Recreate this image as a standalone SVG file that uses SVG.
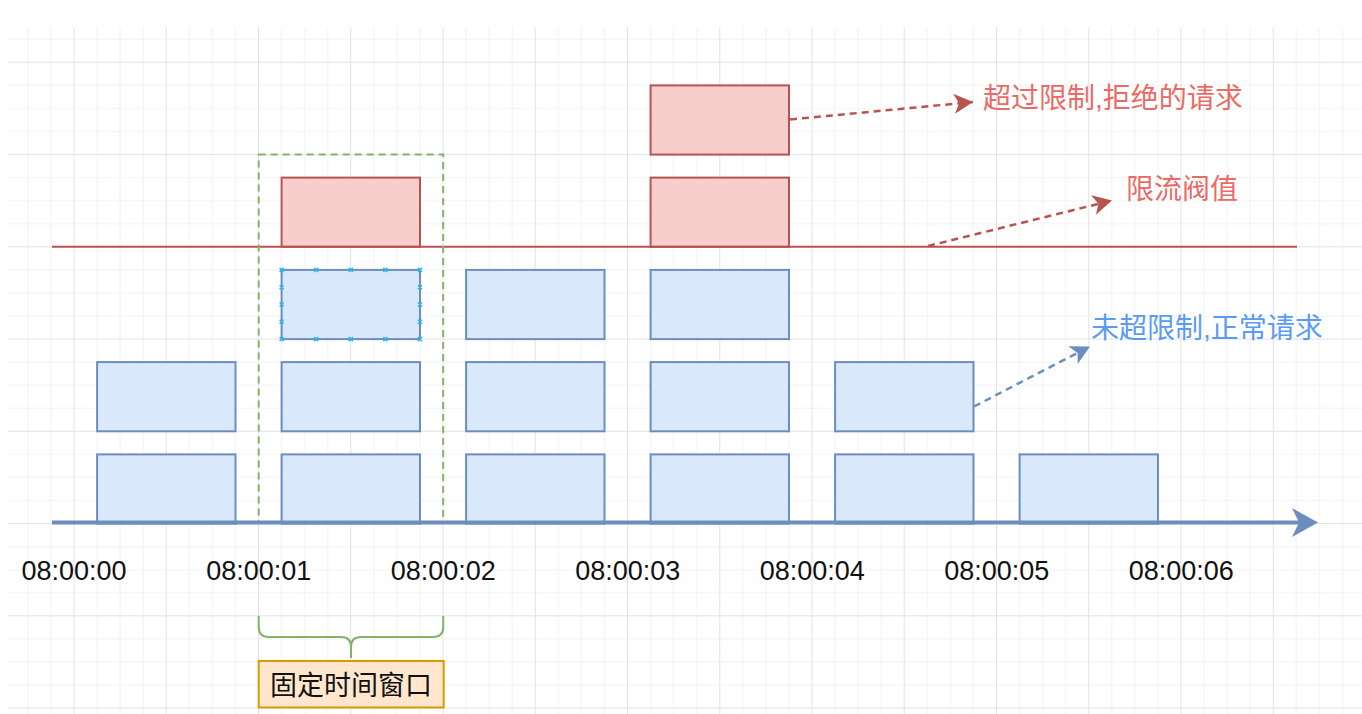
<svg xmlns="http://www.w3.org/2000/svg" width="1362" height="714" viewBox="0 0 1362 714">
<style>
.blue{fill:#dae8fc;stroke:#6c8ebf;stroke-width:2}
.red{fill:#f8cecc;stroke:#b85450;stroke-width:2}
.time{font-family:"Liberation Sans",Arial,sans-serif;font-size:27px;fill:#111;text-anchor:middle}
.cjk{font-family:"Liberation Sans","Noto Sans CJK SC",sans-serif;font-size:27px}
.call{font-size:28px}
.handle{stroke:#29b6f2;stroke-width:1.5;fill:none}
</style>
<defs>
<pattern id="grid" patternUnits="userSpaceOnUse" x="73.5" y="61.8" width="92.25" height="92.25">
<rect x="0" y="0" width="92.25" height="92.25" fill="#fff"/>
<rect x="23.06" y="0" width="1" height="92.25" fill="#f2f2f2"/>
<rect x="46.13" y="0" width="1" height="92.25" fill="#f2f2f2"/>
<rect x="69.19" y="0" width="1" height="92.25" fill="#f2f2f2"/>
<rect x="0" y="23.06" width="92.25" height="1" fill="#f2f2f2"/>
<rect x="0" y="46.13" width="92.25" height="1" fill="#f2f2f2"/>
<rect x="0" y="69.19" width="92.25" height="1" fill="#f2f2f2"/>
<rect x="0" y="0" width="1" height="92.25" fill="#e3e3e3"/>
<rect x="0" y="0" width="92.25" height="1" fill="#e3e3e3"/>
</pattern>
<marker id="arrRed" markerUnits="userSpaceOnUse" markerWidth="22" markerHeight="22" refX="19" refY="10" orient="auto">
<path d="M0,0 L19,10 L0,20 L5,10 Z" fill="#b85450"/>
</marker>
<marker id="arrBlue" markerUnits="userSpaceOnUse" markerWidth="22" markerHeight="22" refX="19" refY="10" orient="auto">
<path d="M0,0 L19,10 L0,20 L5,10 Z" fill="#6c8ebf"/>
</marker>
</defs>
<rect x="0" y="0" width="1362" height="714" fill="#fff"/>
<rect x="8" y="27" width="1354" height="687" fill="url(#grid)"/>

<g id="col0">
<rect id="c0r1" class="blue" x="97.1" y="454.4" width="138.4" height="69.2"/>
<rect id="c0r2" class="blue" x="97.1" y="362.1" width="138.4" height="69.2"/>
</g>
<g id="col1">
<rect id="c1r1" class="blue" x="281.6" y="454.4" width="138.4" height="69.2"/>
<rect id="c1r2" class="blue" x="281.6" y="362.1" width="138.4" height="69.2"/>
<rect id="c1r3" class="blue" x="281.6" y="269.9" width="138.4" height="69.2"/>
<rect id="c1r4" class="red" x="281.6" y="177.6" width="138.4" height="69.2"/>
</g>
<g id="col2">
<rect id="c2r1" class="blue" x="466.1" y="454.4" width="138.4" height="69.2"/>
<rect id="c2r2" class="blue" x="466.1" y="362.1" width="138.4" height="69.2"/>
<rect id="c2r3" class="blue" x="466.1" y="269.9" width="138.4" height="69.2"/>
</g>
<g id="col3">
<rect id="c3r1" class="blue" x="650.6" y="454.4" width="138.4" height="69.2"/>
<rect id="c3r2" class="blue" x="650.6" y="362.1" width="138.4" height="69.2"/>
<rect id="c3r3" class="blue" x="650.6" y="269.9" width="138.4" height="69.2"/>
<rect id="c3r4" class="red" x="650.6" y="177.6" width="138.4" height="69.2"/>
<rect id="c3r5" class="red" x="650.6" y="85.4" width="138.4" height="69.2"/>
</g>
<g id="col4">
<rect id="c4r1" class="blue" x="835.1" y="454.4" width="138.4" height="69.2"/>
<rect id="c4r2" class="blue" x="835.1" y="362.1" width="138.4" height="69.2"/>
</g>
<g id="col5">
<rect id="c5r1" class="blue" x="1019.6" y="454.4" width="138.4" height="69.2"/>
</g>

<g id="selection">
<path class="handle" d="M279.6,267.9l4,4m0,-4l-4,4 M314.2,267.9l4,4m0,-4l-4,4 M348.8,267.9l4,4m0,-4l-4,4 M383.4,267.9l4,4m0,-4l-4,4 M418,267.9l4,4m0,-4l-4,4
M279.6,337.1l4,4m0,-4l-4,4 M314.2,337.1l4,4m0,-4l-4,4 M348.8,337.1l4,4m0,-4l-4,4 M383.4,337.1l4,4m0,-4l-4,4 M418,337.1l4,4m0,-4l-4,4
M279.6,285.2l4,4m0,-4l-4,4 M279.6,302.5l4,4m0,-4l-4,4 M279.6,319.8l4,4m0,-4l-4,4
M418,285.2l4,4m0,-4l-4,4 M418,302.5l4,4m0,-4l-4,4 M418,319.8l4,4m0,-4l-4,4"/>
</g>

<g id="threshold">
<line x1="52" y1="246.8" x2="1297" y2="246.8" stroke="#b85450" stroke-width="2"/>
</g>

<g id="window">
<rect x="258.7" y="154.5" width="184.5" height="368" fill="none" stroke="#82b366" stroke-width="2" stroke-dasharray="7 5"/>
</g>

<g id="axis">
<line x1="52" y1="522.5" x2="1302" y2="522.5" stroke="#6c8ebf" stroke-width="4"/>
<path d="M1292,508 L1318,522.5 L1292,537 L1299,522.5 Z" fill="#6c8ebf"/>
</g>

<g id="labels">
<text class="time" x="74" y="580">08:00:00</text>
<text class="time" x="258.7" y="580">08:00:01</text>
<text class="time" x="443.2" y="580">08:00:02</text>
<text class="time" x="627.7" y="580">08:00:03</text>
<text class="time" x="812.2" y="580">08:00:04</text>
<text class="time" x="996.7" y="580">08:00:05</text>
<text class="time" x="1181.2" y="580">08:00:06</text>
</g>

<g id="brace">
<path d="M258.7,616 L258.7,627 Q258.7,637 269,637 L341,637 Q351,637 351,647 L351,658 M443.2,616 L443.2,627 Q443.2,637 433,637 L361,637 Q351,637 351,647" fill="none" stroke="#82b366" stroke-width="2"/>
</g>

<g id="windowLabel">
<rect x="258.7" y="661" width="185" height="46.5" fill="#ffe6cc" stroke="#d79b00" stroke-width="2"/>
<text class="cjk" x="351" y="695" text-anchor="middle" fill="#111">固定时间窗口</text>
</g>

<g id="rejectLabel">
<text class="cjk call" x="983" y="108" fill="#ea6b66">超过限制,拒绝的请求</text>
</g>
<g id="thresholdLabel">
<text class="cjk call" x="1126" y="199" fill="#ea6b66">限流阀值</text>
</g>
<g id="normalLabel">
<text class="cjk call" x="1091" y="338" fill="#5a9bf5">未超限制,正常请求</text>
</g>

<g id="connectors" fill="none" stroke-width="2.5" stroke-dasharray="7 5">
<path d="M790,119.5 L973,102" stroke="#b85450" marker-end="url(#arrRed)"/>
<path d="M928,246 L1112,200.5" stroke="#b85450" marker-end="url(#arrRed)"/>
<path d="M974,406.5 L1090,346.5" stroke="#6c8ebf" marker-end="url(#arrBlue)"/>
</g>
</svg>
